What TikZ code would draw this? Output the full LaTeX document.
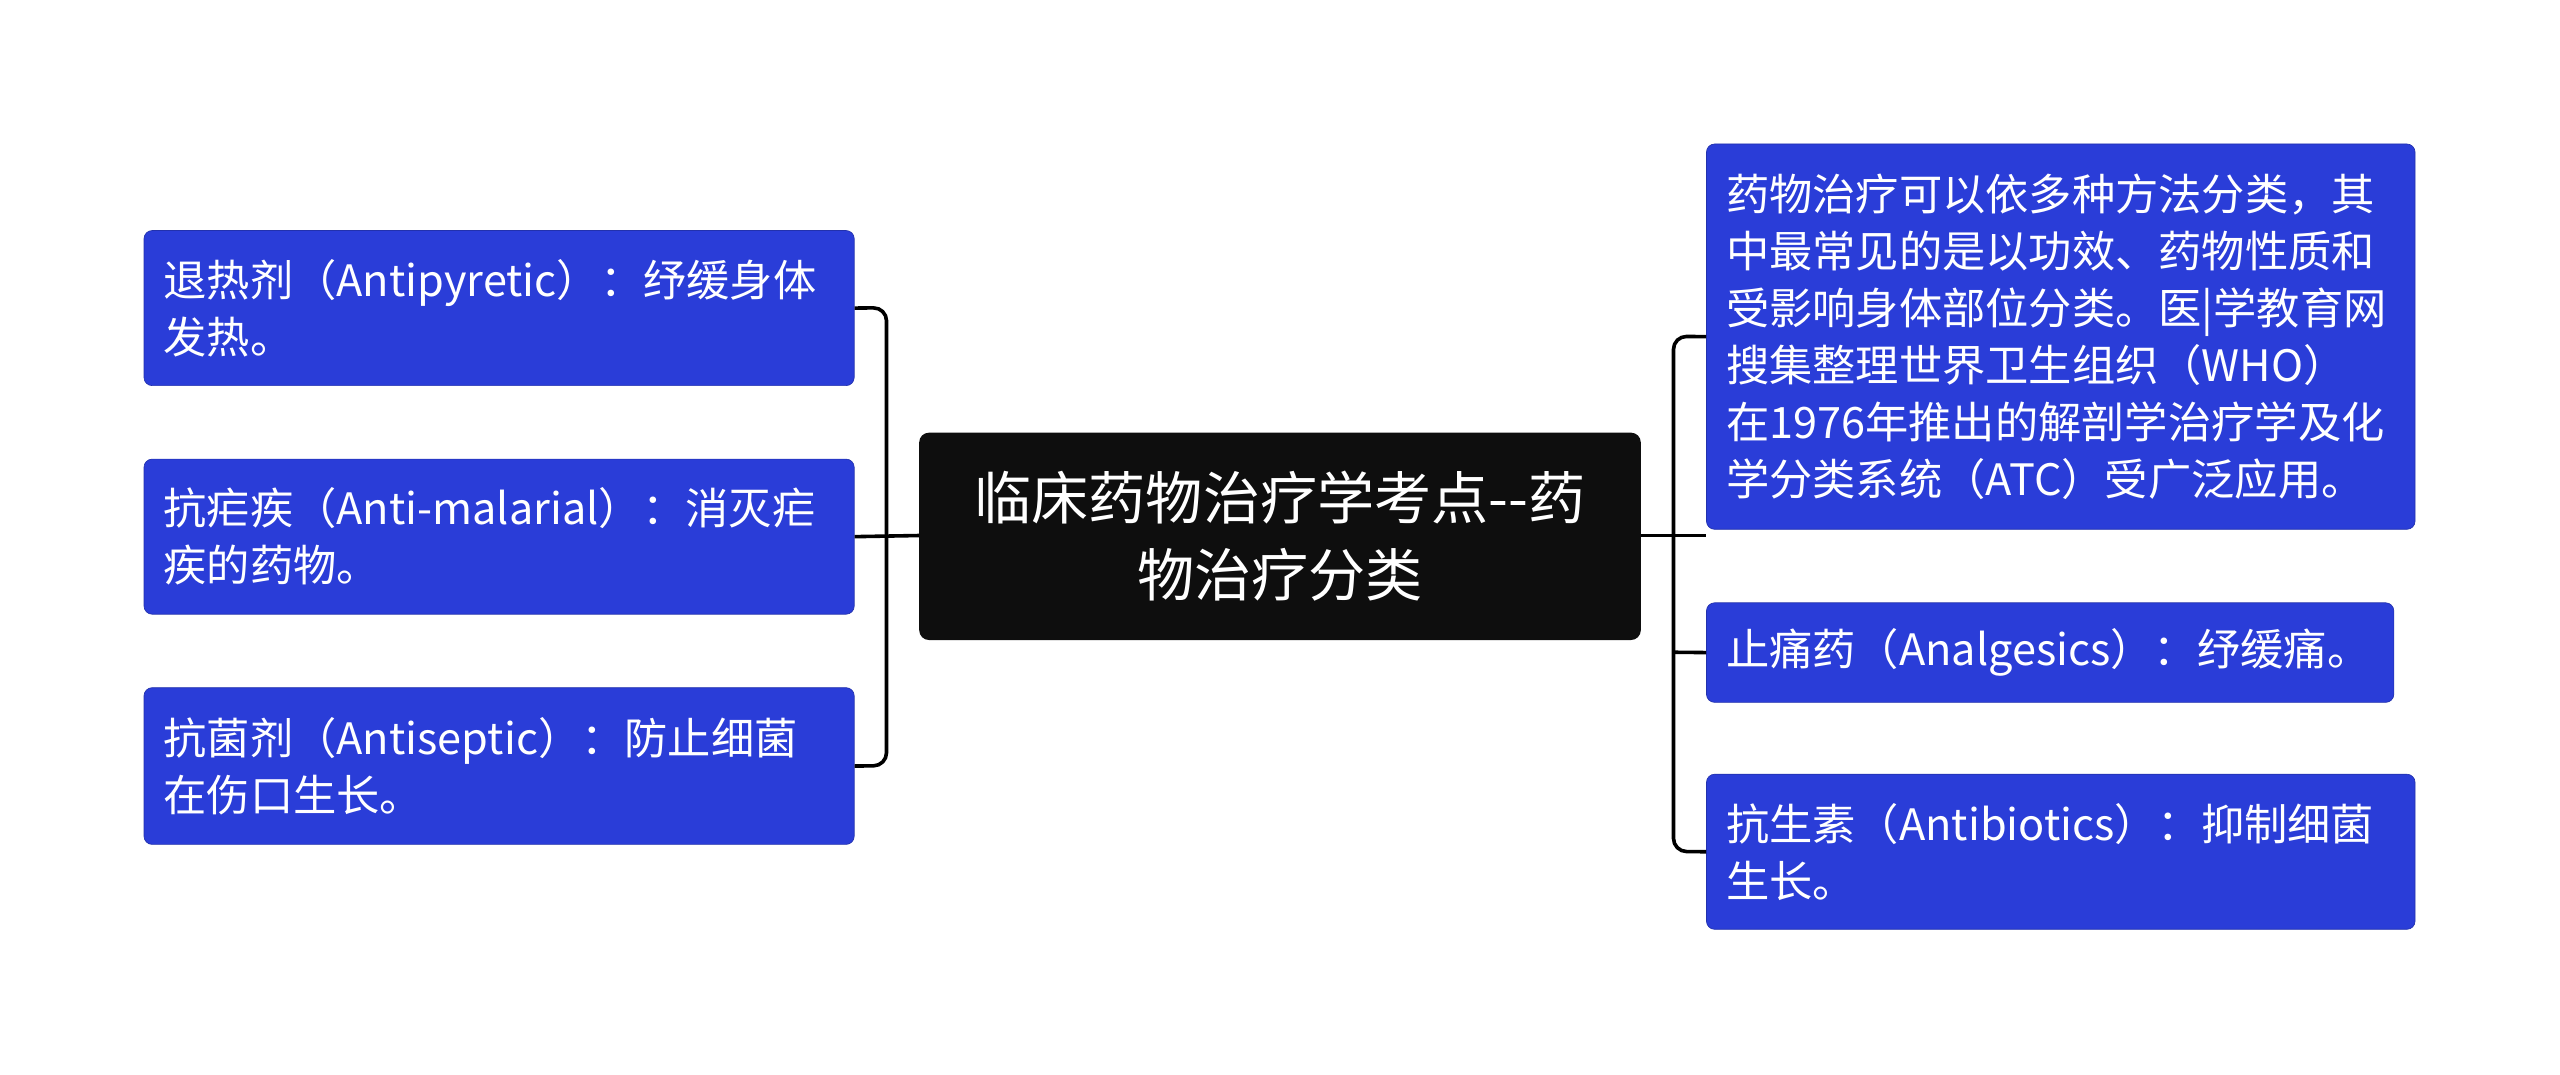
\documentclass[tikz,border=0pt]{standalone}
\usepackage{fontspec}
\setmainfont{Noto Sans CJK SC}
\definecolor{bluebox}{HTML}{2A3DD8}
\definecolor{darkbox}{HTML}{0E0E0E}
\begin{document}
\begin{tikzpicture}[x=1pt,y=-1pt,
  leaf/.style={draw=bluebox!80!black,fill=bluebox,rounded corners=5pt,text=white,font=\fontsize{26.5}{35}\selectfont,align=left,anchor=north west,inner xsep=12pt,inner ysep=0pt},
  conn/.style={draw=black,line width=2.2pt,rounded corners=8pt}]
\useasboundingbox (0,0) rectangle (1568,658);
\fill[darkbox,rounded corners=6pt] (563,265) rectangle (1005,392);
\node[text=white,font=\fontsize{35}{47}\selectfont,align=center] (c) at (784,328.5) {临床药物治疗学考点{-}{-}药\\物治疗分类};
\coordinate (cl) at (563,328);
\coordinate (cr) at (1005,328);
\node[leaf,text width=411pt,minimum height=95pt] (l1) at (88,141) {退热剂（Antipyretic）：纾缓身体\\发热。};
\node[leaf,text width=411pt,minimum height=95pt] (l2) at (88,281) {抗疟疾（Anti-malarial）：消灭疟\\疾的药物。};
\node[leaf,text width=411pt,minimum height=96pt] (l3) at (88,421) {抗菌剂（Antiseptic）：防止细菌\\在伤口生长。};
\node[leaf,text width=410pt,minimum height=236pt] (r1) at (1045,88) {药物治疗可以依多种方法分类，其\\中最常见的是以功效、药物性质和\\受影响身体部位分类。医|学教育网\\搜集整理世界卫生组织（WHO）\\在1976年推出的解剖学治疗学及化\\学分类系统（ATC）受广泛应用。};
\node[leaf,text width=397pt,minimum height=61pt] (r2) at (1045,369) {止痛药（Analgesics）：纾缓痛。};
\node[leaf,text width=410pt,minimum height=95pt] (r3) at (1045,474) {抗生素（Antibiotics）：抑制细菌\\生长。};
\draw[conn] (l1.east) -- (543,188.5) -- (543,469) -- (l3.east);
\draw[conn] (cl) -- (l2.east);
\draw[conn] (r1.west) -- (1025,206) -- (1025,521.5) -- (r3.west);
\draw[conn] (cr) -- (1045,328);
\draw[conn] (1025,399.5) -- (r2.west);
\end{tikzpicture}
\end{document}
